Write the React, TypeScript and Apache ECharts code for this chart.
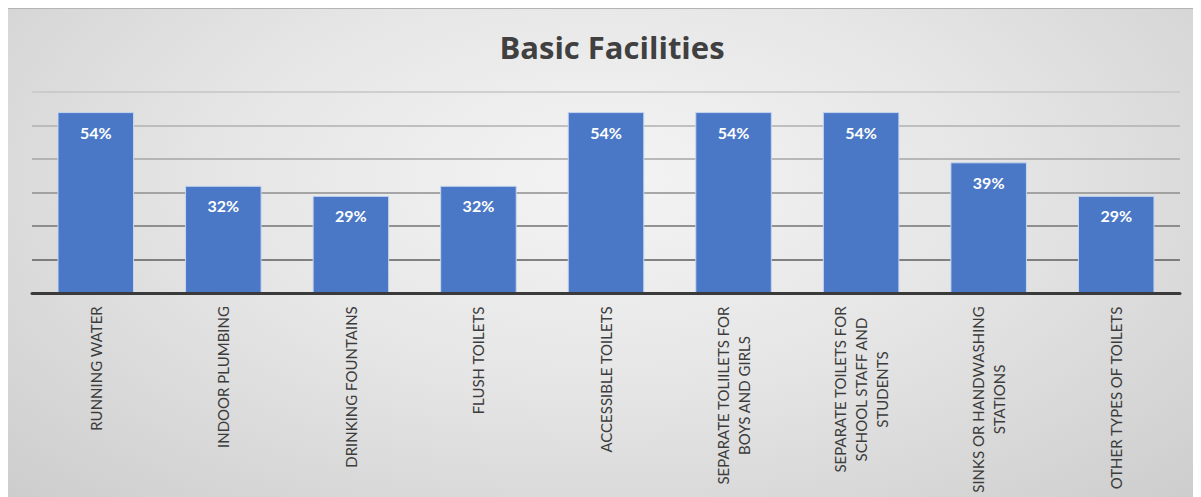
import React, { useEffect, useRef } from "react";
import * as echarts from "echarts";

const categories: string[] = [
  "RUNNING WATER",
  "INDOOR PLUMBING",
  "DRINKING FOUNTAINS",
  "FLUSH TOILETS",
  "ACCESSIBLE TOILETS",
  "SEPARATE TOLIILETS FOR\nBOYS AND GIRLS",
  "SEPARATE TOILETS FOR\nSCHOOL STAFF AND\nSTUDENTS",
  "SINKS OR HANDWASHING\nSTATIONS",
  "OTHER TYPES OF TOILETS",
];
const values: number[] = [54, 32, 29, 32, 54, 54, 54, 39, 29];
const titleText = "Basic Facilities";

const LABEL_FONT = "Lato";
const LABEL_SIZE = 15;

function measure(text: string, font: string): number {
  const c = document.createElement("canvas");
  const ctx = c.getContext("2d");
  if (!ctx) return text.length * 9;
  ctx.font = font;
  return ctx.measureText(text).width;
}

export default function App() {
  const ref = useRef<HTMLDivElement>(null);
  useEffect(() => {
    if (!ref.current) return;
    const chart = echarts.init(ref.current, undefined, { renderer: "svg" });
    const rich: Record<string, any> = {};
    categories.forEach((cat, i) => {
      const w = Math.max(
        ...cat.split("\n").map((l) => measure(l, `${LABEL_SIZE}px ${LABEL_FONT}`))
      );
      rich["r" + i] = {
        width: Math.ceil(w) + 2,
        align: "center",
        fontSize: LABEL_SIZE,
        fontFamily: LABEL_FONT,
        color: "#3c3c3c",
        lineHeight: 21,
      };
    });
    chart.setOption({
      animation: false,
      title: {
        text: titleText,
        left: 599,
        textAlign: "center",
        top: 15,
        textStyle: {
          fontFamily: "Open Sans",
          fontWeight: "bold",
          fontSize: 31,
          color: "#404040",
          lineHeight: 36,
        },
      },
      grid: { left: 24, right: 20, top: 83, bottom: 203, containLabel: false },
      xAxis: {
        type: "category",
        data: categories,
        axisTick: { show: false },
        axisLine: { lineStyle: { color: "#3a3a3a", width: 3 } },
        axisLabel: {
          interval: 0,
          rotate: 90,
          margin: 12,
          formatter: (v: string, idx: number) =>
            v
              .split("\n")
              .map((l) => `{r${idx}|${l}}`)
              .join("\n"),
          rich,
        },
        z: 5,
      },
      yAxis: {
        type: "value",
        min: 0,
        max: 60,
        interval: 10,
        axisLabel: { show: false },
        axisTick: { show: false },
        axisLine: { show: false },
        splitLine: {
          lineStyle: {
            color: ["#3a3a3a", "#5e5e5e", "#737373", "#8e8e8e", "#a6a6a6", "#b0b0b0", "#c6c6c6"],
            width: 1.5,
          },
        },
      },
      series: [
        {
          type: "bar",
          data: values,
          barCategoryGap: "40%",
          itemStyle: {
            color: "#4a78c6",
            borderColor: "#c6d6f0",
            borderWidth: 1,
          },
          label: {
            show: true,
            position: "insideTop",
            distance: 12,
            formatter: "{c}%",
            color: "#ffffff",
            fontWeight: "bold",
            fontSize: 16,
            fontFamily: "Lato",
          },
        },
      ],
    });
    return () => chart.dispose();
  }, []);
  return (
    <div
      style={{
        width: 1193,
        height: 489,
        boxSizing: "border-box",
        borderTop: "1px solid #b4b4b4",
        borderLeft: "1px solid #c4c4c4",
        background:
          "radial-gradient(ellipse at 50% 35%, #f4f4f4 0%, #e6e6e6 45%, #cdcdcd 100%)",
        marginLeft: -1,
      }}
    >
      <div ref={ref} style={{ width: 1192, height: 488 }} />
    </div>
  );
}
